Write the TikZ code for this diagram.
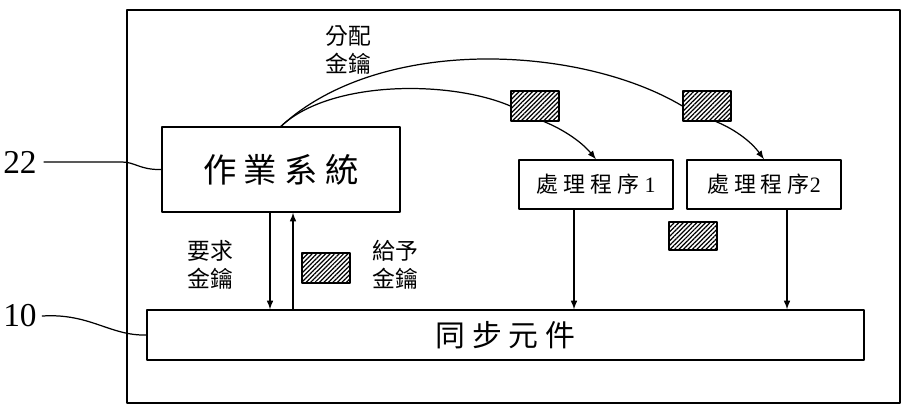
\documentclass[tikz,border=0pt]{standalone}
\usepackage{fontspec}
\setmainfont{Liberation Serif}
\newfontfamily\cjk{Noto Sans CJK TC}
\usetikzlibrary{patterns.meta}

\begin{document}
\begin{tikzpicture}[x=0.02cm, y=-0.02cm, >=latex, line cap=round, line join=round]

% --- Global TikZ Styles for Consistency ---
\tikzset{
    frame/.style={
        line width=0.8pt,
        draw=black
    },
    block/.style={
        draw=black,
        line width=0.8pt,
        fill=white,
        inner sep=0pt
    },
    keybox/.style={
        draw=black,
        line width=0.7pt,
        minimum width=0.96cm,
        minimum height=0.6cm,
        inner sep=0pt,
        pattern={Lines[angle=45, distance=1.8pt, line width=0.7pt]}
    },
    link/.style={
        ->,
        line width=0.7pt
    },
    note/.style={
        font=\cjk\fontsize{13}{15}\selectfont,
        align=center,
        inner sep=0pt
    },
    refnum/.style={
        font=\fontsize{19}{21}\selectfont,
        inner sep=0pt
    }
}

\useasboundingbox (0,0) rectangle (909,414);

% =========================================================================
% --- Outer frame ---
% =========================================================================
\draw[frame] (127,10) rectangle (900,403);

% =========================================================================
% --- Blocks ---
% =========================================================================
\node[block, minimum width=4.76cm, minimum height=1.7cm,
      font=\cjk\fontsize{19}{21}\selectfont] (os) at (281,169.5) {作 業 系 統};

\node[block, minimum width=3.08cm, minimum height=0.98cm,
      font=\fontsize{12.5}{14}\selectfont] (proc1) at (596,184.5) {{\cjk 處 理 程 序} 1};
\node[block, minimum width=3.08cm, minimum height=0.98cm,
      font=\fontsize{12.5}{14}\selectfont] (proc2) at (764,184.5) {{\cjk 處 理 程 序}2};

\node[block, minimum width=14.34cm, minimum height=1.0cm,
      font=\cjk\fontsize{17}{19}\selectfont] (sync) at (505.5,335) {同 步 元 件};

% --- Keys ---
\node[keybox] (k1) at (535,106) {};
\node[keybox] (k2) at (707,106) {};
\node[keybox, minimum height=0.56cm] (k3) at (693,236) {};
\node[keybox] (k4) at (326,268) {};

% --- Labels ---
\node[note] (distlbl) at (348,50) {分配\\[1pt]金鑰};
\node[note] (reqlbl) at (210,265) {要求\\[1pt]金鑰};
\node[note] (givelbl) at (395,265) {給予\\[1pt]金鑰};

\node[refnum] (l22) at (20,162) {22};
\node[refnum] (l10) at (20,316) {10};

% =========================================================================
% --- Connectors ---
% =========================================================================
\coordinate (reqx) at (270,0);
\coordinate (givex) at (293,0);
\coordinate (p1x) at (574,0);
\coordinate (p2x) at (787,0);

\draw[link] (os.south -| reqx) -- (sync.north -| reqx);
\draw[link] (sync.north -| givex) -- (os.south -| givex);

\draw[link] (proc1.south -| p1x) -- (sync.north -| p1x);
\draw[link] (proc2.south -| p2x) -- (sync.north -| p2x);

% --- Key distribution curves ---
\draw[line width=0.7pt] (os.north) .. controls (330,80) and (450,80) .. (k1.west);
\draw[link] (k1.-60) .. controls (560,128) and (580,140) .. (proc1.north);

\draw[line width=0.7pt] (os.north) .. controls (380,35) and (580,45) .. (k2.west);
\draw[link] (k2.-60) .. controls (732,128) and (750,140) .. (proc2.north);

% --- Reference lines ---
\draw[line width=0.7pt] (l22.east) ++(4pt,0) -- (122,162) .. controls (135,162) and (140,170) .. (os.west);
\draw[line width=0.7pt] (l10.east) ++(3pt,0) .. controls (90,313) and (110,336) .. (sync.west);

\end{tikzpicture}
\end{document}
